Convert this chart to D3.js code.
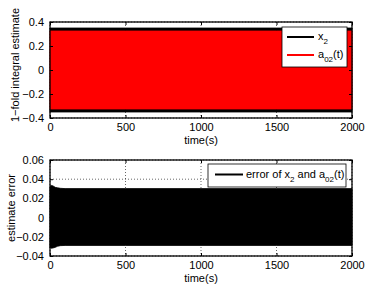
<!DOCTYPE html>
<html><head><meta charset="utf-8">
<script src="https://cdn.jsdelivr.net/npm/d3@7"></script>
<style>body{margin:0;background:#fff}svg{display:block}text{font-family:"Liberation Sans",Arial,sans-serif;font-size:11px;fill:#000}</style>
</head><body>
<script>
// ---- data (envelopes of the dense oscillations) ----
const xTicks = [0, 500, 1000, 1500, 2000];
const topYTicks = [-0.4, -0.2, 0, 0.2, 0.4];
const botYTicks = [-0.04, -0.02, 0, 0.02, 0.04, 0.06];

const timeTop = [0, 500, 1000, 1500, 2000];
const x2Upper = [0.35, 0.35, 0.35, 0.35, 0.35];
const x2Lower = [-0.35, -0.35, -0.35, -0.35, -0.35];
const a02Upper = [0.325, 0.325, 0.325, 0.325, 0.325];
const a02Lower = [-0.325, -0.325, -0.325, -0.325, -0.325];

const timeErr = [0, 5, 10, 20, 35, 50, 70, 100, 500, 1000, 1500, 2000];
const errUpper = [0.031, 0.0335, 0.0335, 0.033, 0.0315, 0.031, 0.0305, 0.0302, 0.0302, 0.0302, 0.0302, 0.0302];
const errLower = [-0.031, -0.0318, -0.0318, -0.0316, -0.031, -0.0298, -0.0292, -0.029, -0.029, -0.029, -0.029, -0.029];

const W = 388, H = 292;
const svg = d3.select("body").append("svg").attr("width", W).attr("height", H);

function panel(opt) {
  const x = d3.scaleLinear().domain([0, 2000]).range([50, 352]);
  const y = d3.scaleLinear().domain(opt.yDomain).range([opt.bottom, opt.top]);
  const g = svg.append("g");
  // grid
  g.selectAll(".gx").data(xTicks).enter().append("line")
    .attr("x1", d => x(d)).attr("x2", d => x(d)).attr("y1", opt.top).attr("y2", opt.bottom)
    .attr("stroke", "#000").attr("stroke-width", 0.6).attr("stroke-dasharray", "1,2");
  g.selectAll(".gy").data(opt.yTicks).enter().append("line")
    .attr("y1", d => y(d)).attr("y2", d => y(d)).attr("x1", 50).attr("x2", 352)
    .attr("stroke", "#000").attr("stroke-width", 0.6).attr("stroke-dasharray", "1,2");
  // series areas
  opt.series.forEach(s => {
    const data = s.t.map((t, i) => ({t, u: s.u[i], l: s.l[i]}));
    g.append("path").datum(data)
      .attr("d", d3.area().x(d => x(d.t)).y0(d => y(d.l)).y1(d => y(d.u)))
      .attr("fill", s.color).attr("stroke", s.color).attr("stroke-width", 0.8);
  });
  // axes (ticks inward, mirrored)
  const ax = g.append("g").attr("transform", `translate(0,${opt.bottom})`)
    .call(d3.axisBottom(x).tickValues(xTicks).tickSize(-3).tickPadding(5).tickFormat(d3.format("d")));
  const axT = g.append("g").attr("transform", `translate(0,${opt.top})`)
    .call(d3.axisTop(x).tickValues(xTicks).tickSize(-3).tickFormat(""));
  const ay = g.append("g").attr("transform", `translate(50,0)`)
    .call(d3.axisLeft(y).tickValues(opt.yTicks).tickSize(-3).tickPadding(6).tickFormat(d => d === 0 ? "0" : d3.format(opt.fmt)(d).replace("-", "\u2212")));
  const ayR = g.append("g").attr("transform", `translate(352,0)`)
    .call(d3.axisRight(y).tickValues(opt.yTicks).tickSize(-3).tickFormat(""));
  [ax, axT, ay, ayR].forEach(a => {
    a.select(".domain").remove();
    a.selectAll("line").attr("stroke", "#000");
    a.selectAll("text").style("font-size", "11px").attr("font-family", "Liberation Sans, Arial, sans-serif");
  });
  ax.selectAll("text").attr("dy", "0.71em");
  g.append("rect").attr("x", 50).attr("y", opt.top).attr("width", 302).attr("height", opt.bottom - opt.top)
    .attr("fill", "none").attr("stroke", "#000").attr("stroke-width", 1.3);
  g.append("text").attr("x", 201).attr("y", opt.bottom + 25.5).attr("text-anchor", "middle").text("time(s)");
  g.append("text").attr("transform", `translate(${opt.ylabX},${opt.ylabY}) rotate(-90)`)
    .attr("text-anchor", "middle").text(opt.ylabel);
  return {x, y, g};
}

panel({
  top: 22, bottom: 118, yDomain: [-0.4, 0.4], yTicks: topYTicks, fmt: ".1f",
  series: [
    {t: timeTop, u: x2Upper, l: x2Lower, color: "#000"},
    {t: timeTop, u: a02Upper, l: a02Lower, color: "#ff0000"}
  ],
  ylabel: "1\u2212fold integral estimate", ylabX: 19, ylabY: 65
});

panel({
  top: 160, bottom: 256, yDomain: [-0.04, 0.06], yTicks: botYTicks, fmt: ".2f",
  series: [{t: timeErr, u: errUpper, l: errLower, color: "#000"}],
  ylabel: "estimate error", ylabX: 15, ylabY: 208
});

// legends
function legend(box, items) {
  const g = svg.append("g");
  g.append("rect").attr("x", box.x).attr("y", box.y).attr("width", box.w).attr("height", box.h)
    .attr("fill", "#fff").attr("stroke", "#000").attr("stroke-width", 0.8);
  items.forEach(it => {
    g.append("line").attr("x1", it.lx1).attr("x2", it.lx2).attr("y1", it.y).attr("y2", it.y)
      .attr("stroke", it.color).attr("stroke-width", 2);
    const t = g.append("text").attr("x", it.tx).attr("y", it.y + 3);
    it.parts.forEach(p => {
      if (p.sub) t.append("tspan").attr("dy", 4).style("font-size", "8px").text(p.s);
      else t.append("tspan").attr("dy", p.after ? -4 : 0).text(p.s);
    });
  });
}

legend({x: 282, y: 27, w: 65, h: 40}, [
  {y: 37, lx1: 287, lx2: 314, tx: 318, color: "#000", parts: [{s: "x"}, {s: "2", sub: true}]},
  {y: 55, lx1: 287, lx2: 314, tx: 318, color: "#ff0000", parts: [{s: "a"}, {s: "02", sub: true}, {s: "(t)", after: true}]}
]);
legend({x: 208, y: 164, w: 138, h: 23}, [
  {y: 174.5, lx1: 215, lx2: 243, tx: 246, color: "#000",
   parts: [{s: "error of x"}, {s: "2", sub: true}, {s: " and a", after: true}, {s: "02", sub: true}, {s: "(t)", after: true}]}
]);
</script>
</body></html>
